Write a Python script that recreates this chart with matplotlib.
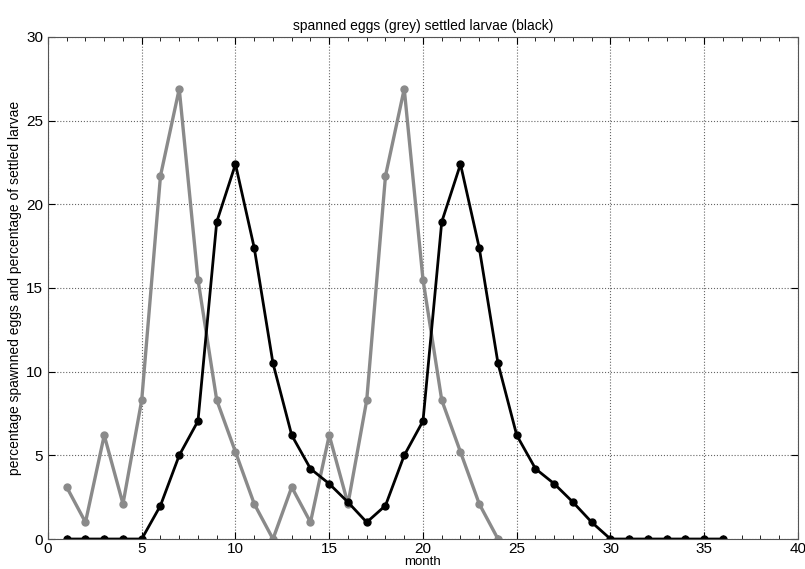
import matplotlib
matplotlib.use('Agg')
import matplotlib.pyplot as plt
from matplotlib.ticker import MultipleLocator

plt.rcParams['font.family'] = ['Liberation Sans', 'DejaVu Sans']

# spawned eggs, months 1..24
grey_months = list(range(1, 25))
grey_values = [3.1, 1.0, 6.2, 2.1, 8.3, 21.7, 26.9, 15.5, 8.3, 5.2, 2.1, 0.0,
               3.1, 1.0, 6.2, 2.1, 8.3, 21.7, 26.9, 15.5, 8.3, 5.2, 2.1, 0.0]

# settled larvae, months 1..36
black_months = list(range(1, 37))
black_values = [0, 0, 0, 0, 0, 2.0, 5.0, 7.05, 18.95, 22.4, 17.4, 10.5,
                6.2, 4.2, 3.3, 2.2, 1.0, 2.0, 5.0, 7.05, 18.95, 22.4, 17.4, 10.5,
                6.2, 4.2, 3.3, 2.2, 1.0, 0, 0, 0, 0, 0, 0, 0]

fig = plt.figure(figsize=(8.05, 5.69), dpi=100)
ax = fig.add_axes([0.0596, 0.0527, 0.9317, 0.8823])

ax.plot(grey_months, grey_values, '-o', color='#8a8a8a', lw=2.4,
        markersize=5, markerfacecolor='#8a8a8a', markeredgecolor='#8a8a8a')
ax.plot(black_months, black_values, '-o', color='black', lw=2.0,
        markersize=5, markerfacecolor='black', markeredgecolor='black')

ax.set_xlim(0, 40)
ax.set_ylim(0, 30)
ax.xaxis.set_major_locator(MultipleLocator(5))
ax.xaxis.set_minor_locator(MultipleLocator(1))
ax.yaxis.set_major_locator(MultipleLocator(5))
ax.tick_params(which='both', direction='in', top=True, right=True, labelsize=11)
ax.tick_params(axis='x', pad=2)
ax.tick_params(which='major', length=5)
ax.tick_params(which='minor', length=3)
ax.grid(True, which='major', linestyle=':', color='#666666', lw=0.8)
for s in ax.spines.values():
    s.set_color('#555555')

ax.set_title('spanned eggs (grey) settled larvae (black)', fontsize=10, pad=5)
ax.set_xlabel('month', fontsize=9.5, labelpad=0)
ax.set_ylabel('percentage spawnned eggs and percentage of settled larvae', fontsize=10, labelpad=3)

fig.savefig('out.png', dpi=100)
